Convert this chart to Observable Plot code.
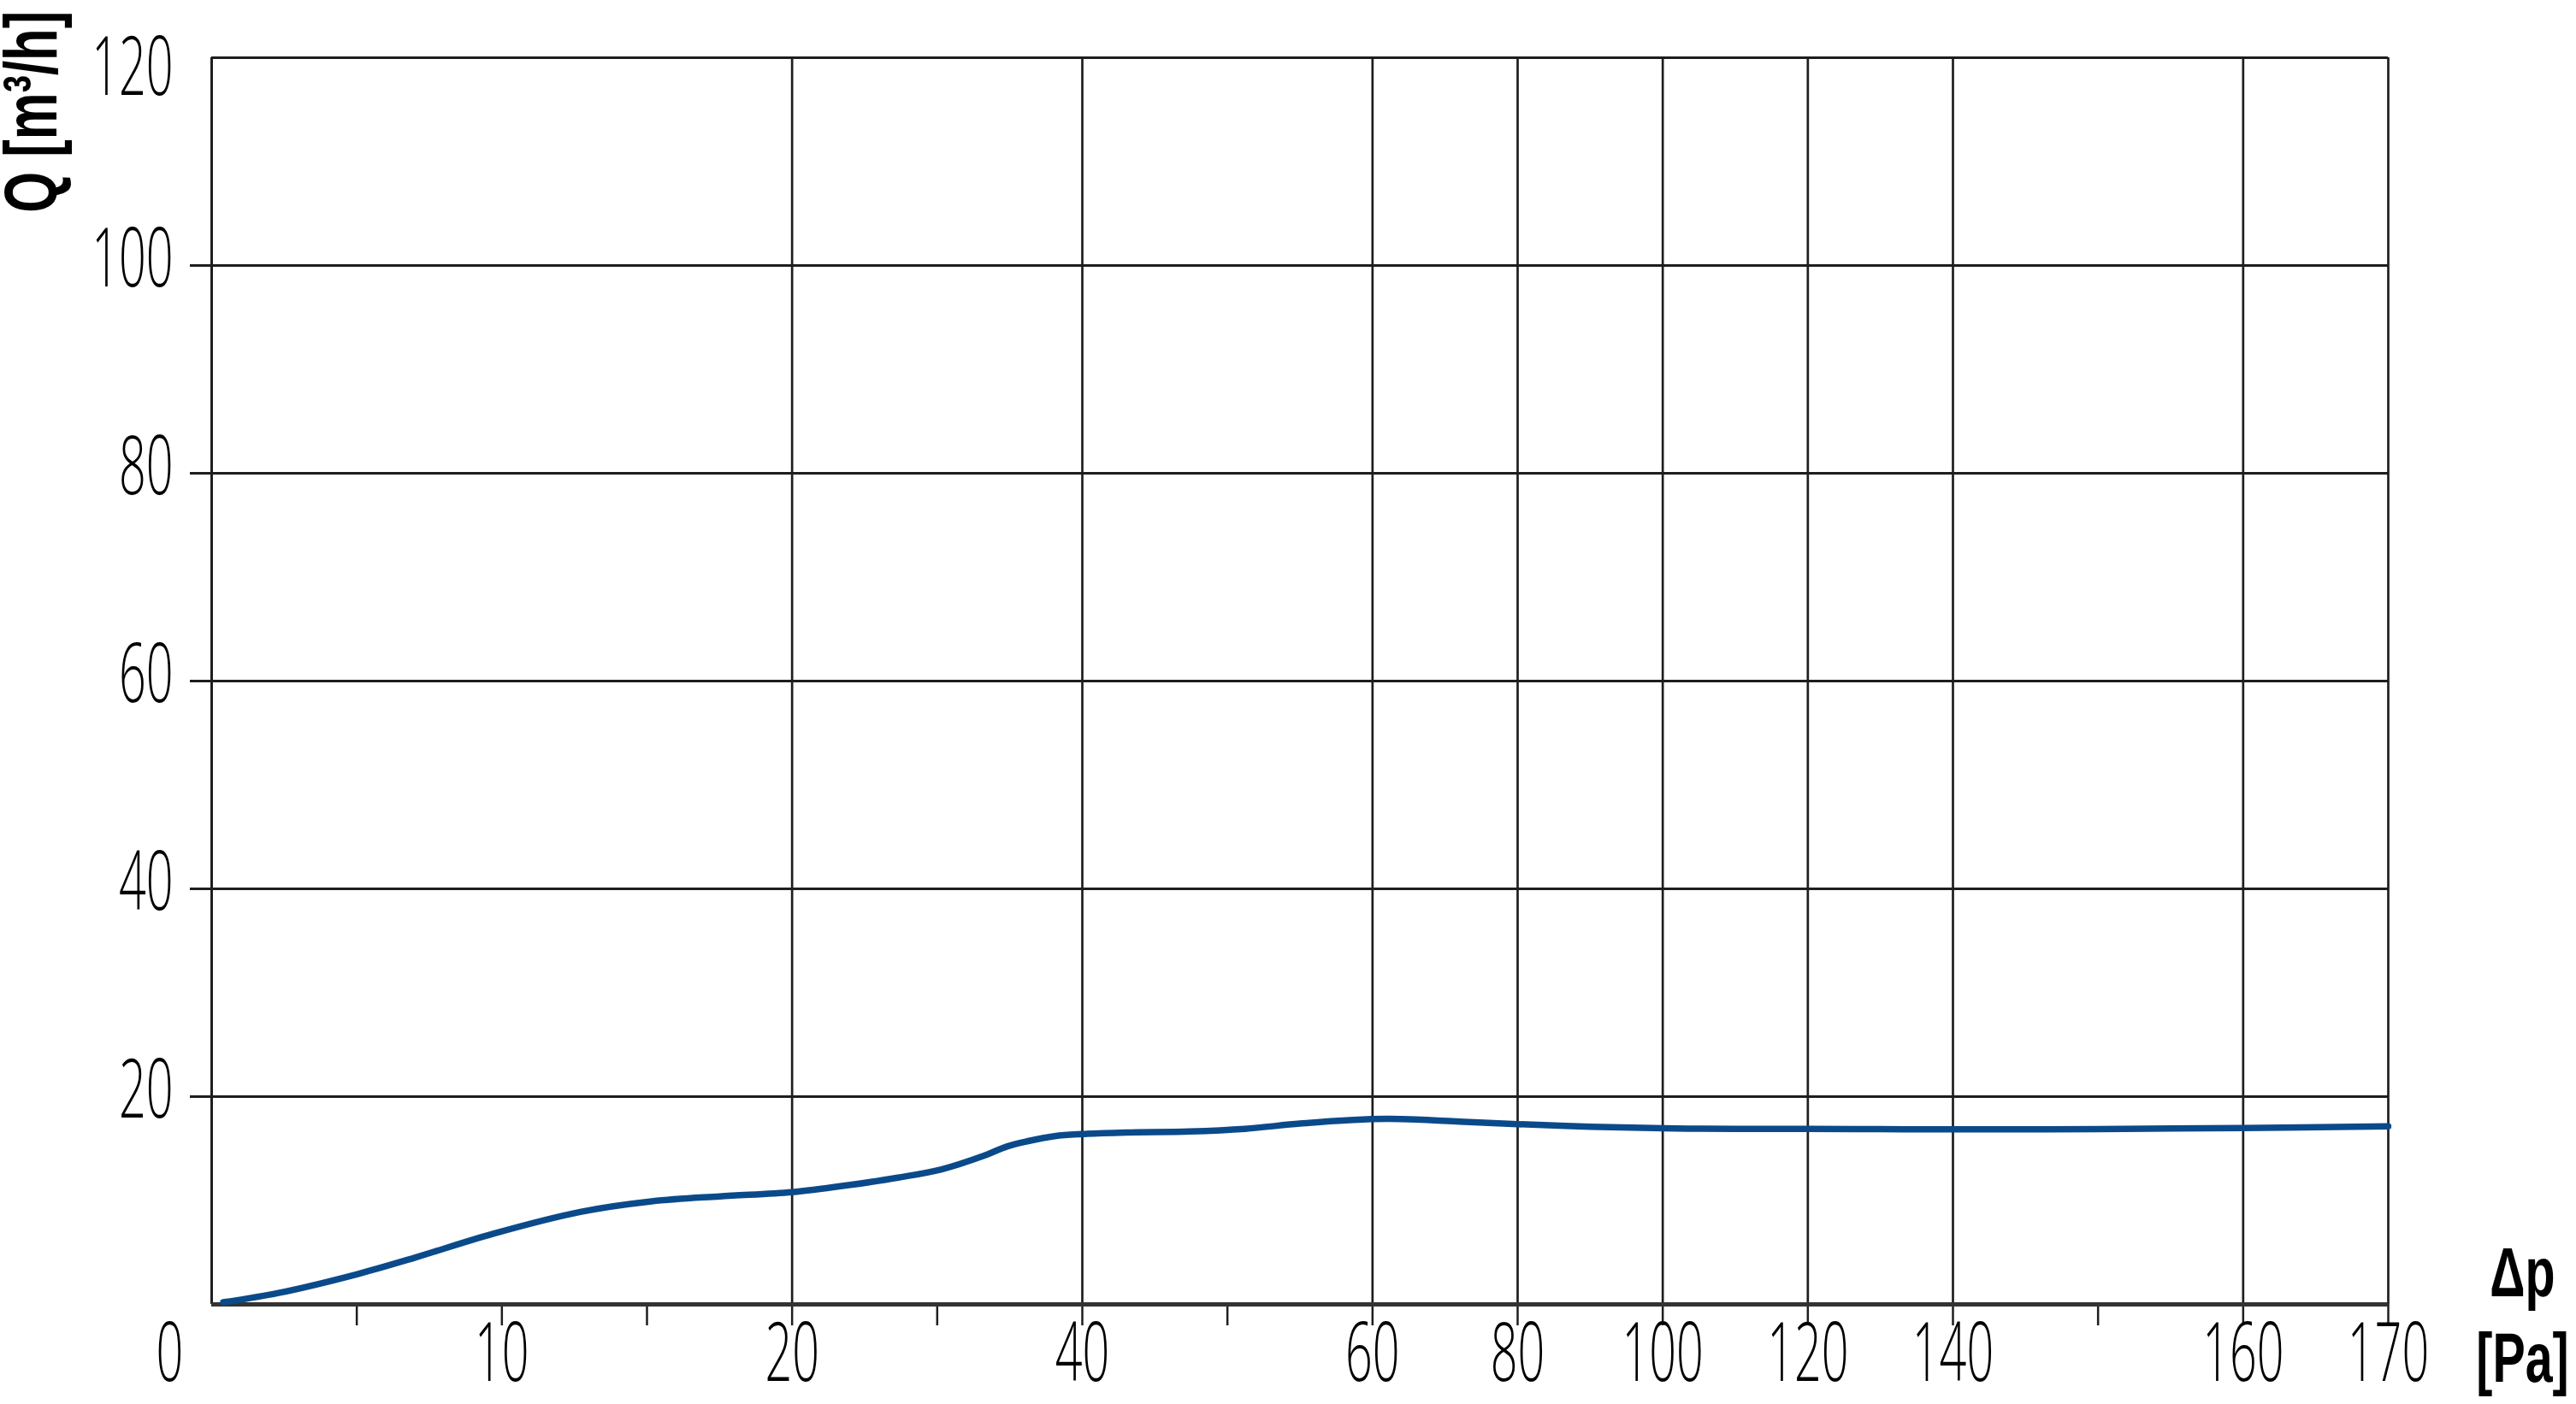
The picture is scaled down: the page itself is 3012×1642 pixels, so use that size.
<!DOCTYPE html>
<html>
<head>
<meta charset="utf-8">
<script src="https://cdn.jsdelivr.net/npm/d3@7"></script>
<script src="https://cdn.jsdelivr.net/npm/@observablehq/plot@0.6"></script>
<style>
  html, body { margin: 0; padding: 0; background: #fff; }
  #chart svg { display: block; background: #fff; overflow: visible; }
</style>
</head>
<body>
<div id="chart"></div>
<script>
// ---- data ----
const pressure = [0.4, 2.3, 5, 7, 9.7, 12.7, 15.1, 17.5, 20, 24, 27.3, 30.3, 33.2, 34.8, 36.2, 38.1, 40, 43, 47.4, 51.2, 55, 58.7, 62, 66, 72, 80, 90, 100, 110, 120, 130, 140, 150, 160, 170];
const flow     = [0.2, 1.1, 2.9, 4.5, 6.8, 8.9, 9.9, 10.4, 10.8, 11.5, 12.2, 13.0, 14.3, 15.2, 15.7, 16.2, 16.4, 16.55, 16.65, 16.9, 17.4, 17.75, 17.85, 17.8, 17.6, 17.35, 17.1, 16.95, 16.9, 16.9, 16.87, 16.85, 16.87, 16.98, 17.15];
const xBreaks = [0, 10, 20, 40, 60, 80, 100, 120, 140, 160, 170];   // non-uniform axis breakpoints
const xBreakSteps = [0, 2, 4, 6, 8, 9, 10, 11, 12, 14, 15];         // relative spacing of those breakpoints
const xTickLabels = [10, 20, 40, 60, 80, 100, 120, 140, 160, 170];
const xZeroLabel = [0];
const xTickMarks = [5, 10, 15, 20, 30, 40, 50, 60, 80, 100, 120, 140, 150, 160, 170];
const xGrid = [20, 40, 60, 80, 100, 120, 140, 160, 170];
const yGrid = [20, 40, 60, 80, 100, 120];
const yTickMarks = [20, 40, 60, 80, 100];
const yTickLabels = [20, 40, 60, 80, 100];
const yTopLabel = [120];
const yTitle = "Q [m³/h]";
const xTitle1 = "Δp";
const xTitle2 = "[Pa]";

// ---- layout ----
const W = 3012, H = 1642;
const ml = 247, mr = 220, mt = 67, mb = 117;
const innerW = W - ml - mr;
const xRange = xBreakSteps.map(s => ml + s * innerW / 15);

const data = pressure.map((p, i) => ({p, q: flow[i]}));
const ink = "#1e1e1e";
const font = "'Open Sans', Roboto, sans-serif";
const titleFont = "'Liberation Sans', Arial, sans-serif";
const tickFont = 96;

const chart = Plot.plot({
  width: W,
  height: H,
  marginLeft: ml,
  marginRight: mr,
  marginTop: mt,
  marginBottom: mb,
  style: {fontFamily: font, background: "#fff"},
  x: {type: "linear", domain: xBreaks, range: xRange, axis: null},
  y: {type: "linear", domain: [0, 120], axis: null},
  marks: [
    Plot.ruleY(yGrid, {stroke: ink, strokeWidth: 3}),
    Plot.ruleX(xGrid, {y1: 0, y2: 120, stroke: ink, strokeWidth: 2.7}),
    Plot.ruleX([0], {y1: 0, y2: 120, stroke: ink, strokeWidth: 3}),
    Plot.ruleX(xTickMarks, {x: d => d, y1: 0, y2: 0, insetBottom: -25, stroke: ink, strokeWidth: 2.5}),
    Plot.ruleY(yTickMarks, {y: d => d, x1: 0, x2: 0, insetLeft: -25, stroke: ink, strokeWidth: 3}),
    Plot.ruleY([0], {stroke: "#333", strokeWidth: 5}),
    Plot.line(data, {x: "p", y: "q", stroke: "#0b4a8a", strokeWidth: 7.5, curve: "catmull-rom"}),
    // x tick labels
    Plot.text(xTickLabels, {x: d => d, y: 0, text: d => String(d), dy: 89, lineAnchor: "middle", fontSize: tickFont, fontWeight: 300, fill: "#000"}),
    Plot.text(xZeroLabel, {x: d => d, y: 0, text: d => String(d), dx: -49, dy: 89, lineAnchor: "middle", fontSize: tickFont, fontWeight: 300, fill: "#000"}),
    // y tick labels
    Plot.text(yTickLabels, {x: 0, y: d => d, text: d => String(d), dx: -45, dy: 24, textAnchor: "end", lineAnchor: "middle", fontSize: tickFont, fontWeight: 300, fill: "#000"}),
    Plot.text(yTopLabel, {x: 0, y: d => d, text: d => String(d), dx: -45, dy: 43, textAnchor: "end", lineAnchor: "middle", fontSize: tickFont, fontWeight: 300, fill: "#000"}),
    // axis titles
    Plot.text([yTitle], {x: 0, y: 120, text: d => d, rotate: -90, dx: -182, dy: -55, textAnchor: "end", lineAnchor: "middle", fontFamily: titleFont, fontSize: 88, fontWeight: 700, fill: "#000"}),
    Plot.text([xTitle1], {x: 170, y: 0, text: d => d, dx: 157, dy: -10, lineAnchor: "middle", fontFamily: titleFont, fontSize: 82, fontWeight: 700, fill: "#000"}),
    Plot.text([xTitle2], {x: 170, y: 0, text: d => d, dx: 157, dy: 90, lineAnchor: "middle", fontFamily: titleFont, fontSize: 82, fontWeight: 700, fill: "#000"})
  ]
});

document.getElementById("chart").appendChild(chart);

// condense the lettering horizontally to mimic the narrow typeface of the original
chart.querySelectorAll("text").forEach(t => {
  const fw = parseInt(getComputedStyle(t).fontWeight, 10) || 400;
  const s = fw >= 500 ? 0.7 : 0.58;
  let tr = t.getAttribute("transform") || "";
  const x = parseFloat(t.getAttribute("x") || "0");
  const y = parseFloat(t.getAttribute("y") || "0");
  if (x || y) {
    t.removeAttribute("x");
    t.removeAttribute("y");
    tr = `translate(${x},${y}) ` + tr;
  }
  t.setAttribute("transform", (tr + ` scale(${s},1)`).trim());
});
</script>
</body>
</html>
